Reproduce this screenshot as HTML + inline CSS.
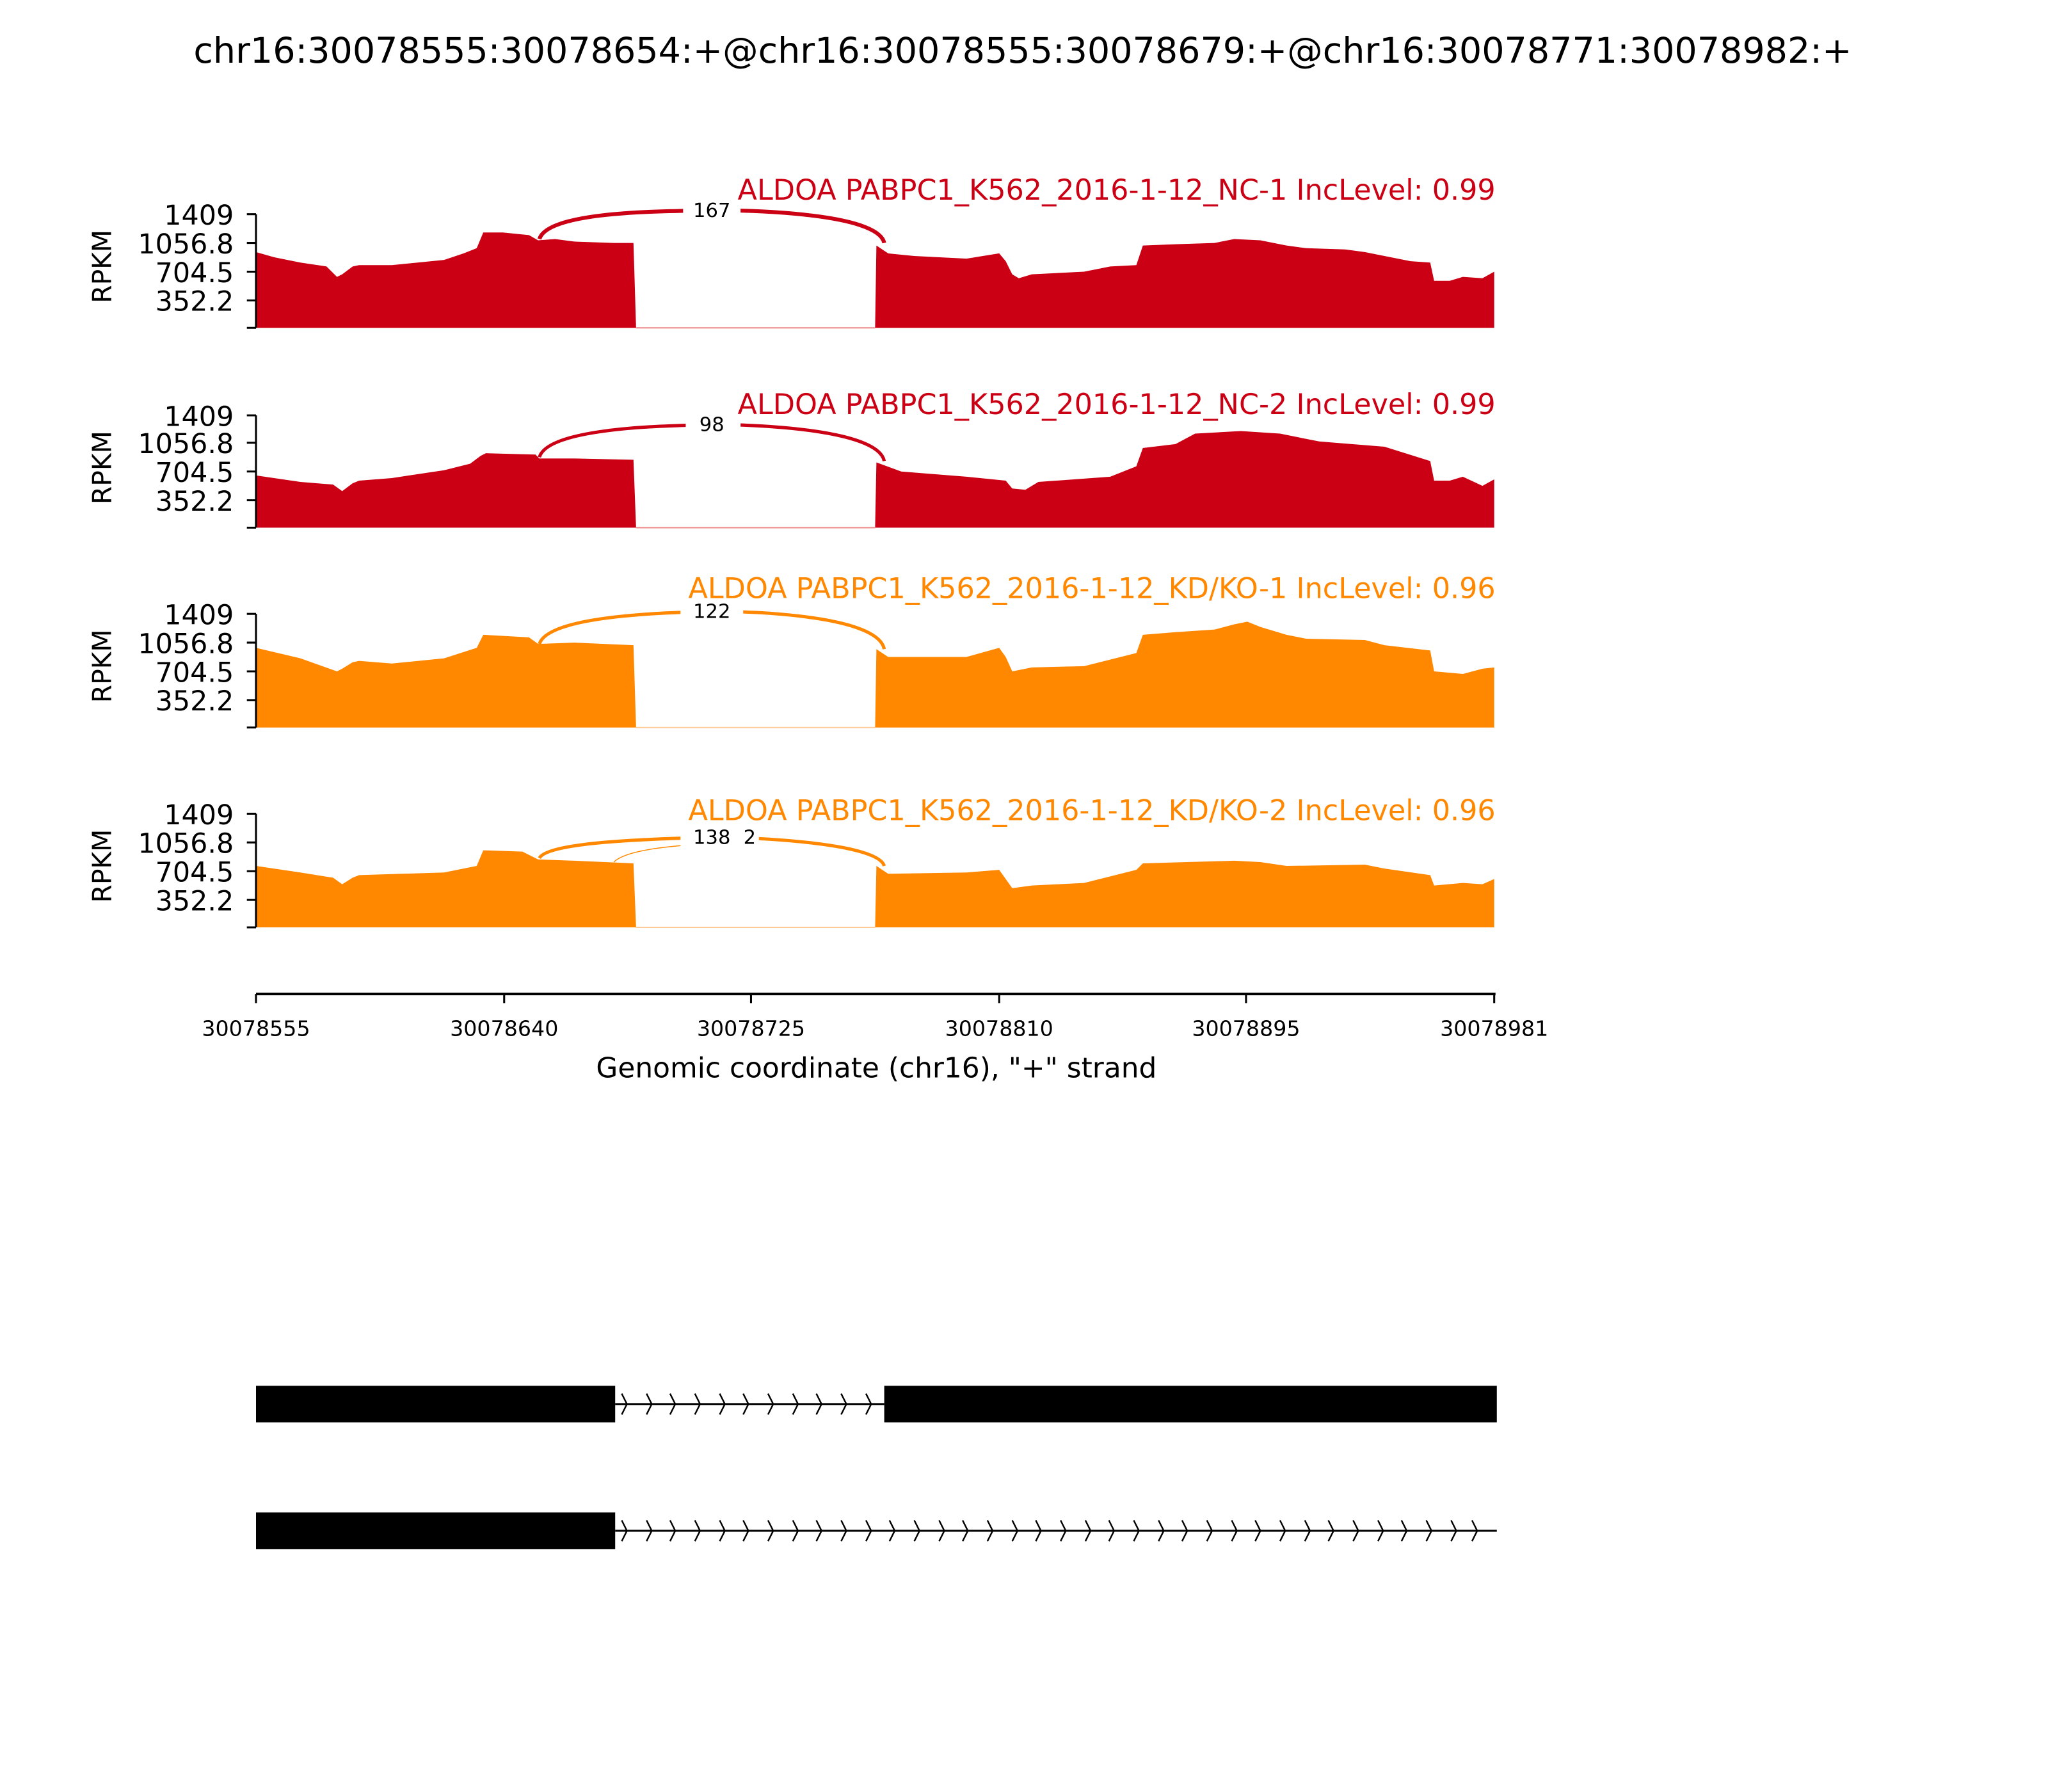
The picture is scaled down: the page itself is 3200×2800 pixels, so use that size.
<!DOCTYPE html>
<html><head><meta charset="utf-8"><style>html,body{margin:0;padding:0;background:#fff}svg{display:block}</style></head>
<body>
<svg width="3200" height="2800" viewBox="0 0 1568 1372" xmlns="http://www.w3.org/2000/svg" font-family="'DejaVu Sans','Liberation Sans',sans-serif">
<rect width="1568" height="1372" fill="#fff"/>
<text x="783" y="48" font-size="27.2" text-anchor="middle">chr16:30078555:30078654:+@chr16:30078555:30078679:+@chr16:30078771:30078982:+</text>

<!-- Panel 1 -->
<g>
<path fill="#cc0014" d="M196,251 L196,193 L210,197 L230,201 L250,204 L258,212 L262,210 L270,204 L275,203 L300,203 L340,199 L355,194 L365,190 L370,178 L385,178 L405,180 L412,184 L425,183 L440,185 L470,186 L485,186 L487,251 Z M670,251 L671,188 L680,194 L700,196 L740,198 L765,194 L770,200 L775,210 L780,213 L790,210 L830,208 L850,204 L870,203 L875,188 L900,187 L930,186 L945,183 L965,184 L985,188 L1000,190 L1030,191 L1045,193 L1060,196 L1080,200 L1095,201 L1098,215 L1110,215 L1120,212 L1135,213 L1144,208 L1144,251 Z"/>
<line x1="487" y1="251" x2="670" y2="251" stroke="#e88" stroke-width="1"/>
<path d="M413,183 C420,160 520,162 545,161 C575,161 672,163 677,186" fill="none" stroke="#cc0014" stroke-width="3"/>
<rect x="523" y="151" width="44" height="19" fill="#fff"/>
<text x="545" y="166" font-size="15" text-anchor="middle">167</text>
<text x="1145" y="153" font-size="21.8" text-anchor="end" fill="#cc0014">ALDOA PABPC1_K562_2016-1-12_NC-1 IncLevel: 0.99</text>
</g>

<!-- Panel 2 -->
<g>
<path fill="#cc0014" d="M196,404 L196,364 L230,369 L255,371 L262,376 L270,370 L275,368 L300,366 L340,360 L360,355 L368,349 L372,347 L410,348 L413,351 L440,351 L485,352 L487,404 Z M670,404 L671,354 L690,361 L740,365 L770,368 L775,374 L785,375 L795,369 L850,365 L870,357 L875,343 L900,340 L915,332 L950,330 L980,332 L1010,338 L1060,342 L1095,353 L1098,368 L1110,368 L1120,365 L1135,372 L1144,367 L1144,404 Z"/>
<line x1="487" y1="404" x2="670" y2="404" stroke="#e88" stroke-width="1"/>
<path d="M413,350 C420,326 520,326 545,325 C575,325 672,328 677,353" fill="none" stroke="#cc0014" stroke-width="2.5"/>
<rect x="525" y="315" width="42" height="19" fill="#fff"/>
<text x="545" y="330" font-size="15" text-anchor="middle">98</text>
<text x="1145" y="317" font-size="21.8" text-anchor="end" fill="#cc0014">ALDOA PABPC1_K562_2016-1-12_NC-2 IncLevel: 0.99</text>
</g>

<!-- Panel 3 -->
<g>
<path fill="#ff8800" d="M196,557 L196,496 L230,504 L258,514 L262,512 L270,507 L275,506 L300,508 L340,504 L365,496 L370,486 L405,488 L412,493 L440,492 L485,494 L487,557 Z M670,557 L671,497 L680,503 L700,503 L740,503 L765,496 L770,503 L775,514 L790,511 L830,510 L870,500 L875,486 L900,484 L930,482 L945,478 L955,476 L965,480 L985,486 L1000,489 L1045,490 L1060,494 L1095,498 L1098,514 L1120,516 L1135,512 L1144,511 L1144,557 Z"/>
<line x1="487" y1="557" x2="670" y2="557" stroke="#fc9" stroke-width="1"/>
<path d="M413,493 C420,470 520,469 545,468 C575,468 672,471 677,497" fill="none" stroke="#ff8800" stroke-width="2.5"/>
<rect x="521" y="458" width="48" height="19" fill="#fff"/>
<text x="545" y="473" font-size="15" text-anchor="middle">122</text>
<text x="1145" y="458" font-size="21.8" text-anchor="end" fill="#ff8800">ALDOA PABPC1_K562_2016-1-12_KD/KO-1 IncLevel: 0.96</text>
</g>

<!-- Panel 4 -->
<g>
<path fill="#ff8800" d="M196,710 L196,663 L230,668 L255,672 L262,677 L270,672 L275,670 L340,668 L365,663 L370,651 L400,652 L412,658 L440,659 L485,661 L487,710 Z M670,710 L671,663 L680,669 L740,668 L765,666 L775,680 L790,678 L830,676 L870,666 L875,661 L945,659 L965,660 L985,663 L1045,662 L1060,665 L1095,670 L1098,678 L1120,676 L1135,677 L1144,673 L1144,710 Z"/>
<line x1="487" y1="710" x2="670" y2="710" stroke="#fc9" stroke-width="1"/>
<path d="M413,657 C420,643 520,642 545,641 C575,641 672,645 677,663" fill="none" stroke="#ff8800" stroke-width="2.5"/>
<path d="M470,660 C480,650 520,647 545,646" fill="none" stroke="#ff8800" stroke-width="0.7"/>
<rect x="521" y="631" width="60" height="19" fill="#fff"/>
<text x="545" y="646" font-size="15" text-anchor="middle">138</text>
<text x="574" y="646" font-size="15" text-anchor="middle">2</text>
<text x="1145" y="628" font-size="21.8" text-anchor="end" fill="#ff8800">ALDOA PABPC1_K562_2016-1-12_KD/KO-2 IncLevel: 0.96</text>
</g>

<!-- Y axes -->
<g stroke="#000" stroke-width="1.5" fill="none">
<path d="M196,164 V251 M189,164 H196 M189,186 H196 M189,208 H196 M189,230 H196 M189,251 H196"/>
<path d="M196,318 V404 M189,318 H196 M189,339 H196 M189,361 H196 M189,383 H196 M189,404 H196"/>
<path d="M196,470 V557 M189,470 H196 M189,492 H196 M189,514 H196 M189,536 H196 M189,557 H196"/>
<path d="M196,623 V710 M189,623 H196 M189,645 H196 M189,667 H196 M189,689 H196 M189,710 H196"/>
</g>
<g font-size="21" text-anchor="end">
<text x="179" y="172">1409</text><text x="179" y="194">1056.8</text><text x="179" y="216">704.5</text><text x="179" y="238">352.2</text>
<text x="179" y="326">1409</text><text x="179" y="347">1056.8</text><text x="179" y="369">704.5</text><text x="179" y="391">352.2</text>
<text x="179" y="478">1409</text><text x="179" y="500">1056.8</text><text x="179" y="522">704.5</text><text x="179" y="544">352.2</text>
<text x="179" y="631">1409</text><text x="179" y="653">1056.8</text><text x="179" y="675">704.5</text><text x="179" y="697">352.2</text>
</g>
<g font-size="20" text-anchor="middle">
<text transform="translate(85,204) rotate(-90)">RPKM</text>
<text transform="translate(85,358) rotate(-90)">RPKM</text>
<text transform="translate(85,510) rotate(-90)">RPKM</text>
<text transform="translate(85,663) rotate(-90)">RPKM</text>
</g>

<!-- X axis -->
<g stroke="#000" stroke-width="1.5">
<line x1="196" y1="761" x2="1145" y2="761" stroke-width="2"/>
<line x1="196" y1="761" x2="196" y2="768"/><line x1="386" y1="761" x2="386" y2="768"/>
<line x1="575" y1="761" x2="575" y2="768"/><line x1="765" y1="761" x2="765" y2="768"/>
<line x1="954" y1="761" x2="954" y2="768"/><line x1="1144" y1="761" x2="1144" y2="768"/>
</g>
<g font-size="16.3" text-anchor="middle">
<text x="196" y="793">30078555</text><text x="386" y="793">30078640</text><text x="575" y="793">30078725</text>
<text x="765" y="793">30078810</text><text x="954" y="793">30078895</text><text x="1144" y="793">30078981</text>
</g>
<text x="671" y="825" font-size="21.5" text-anchor="middle">Genomic coordinate (chr16), "+" strand</text>

<!-- Gene models -->
<rect x="196" y="1061" width="275" height="28" fill="#000"/>
<rect x="677" y="1061" width="469" height="28" fill="#000"/>
<line x1="471" y1="1075" x2="677" y2="1075" stroke="#000" stroke-width="1.5"/>
<rect x="196" y="1158" width="275" height="28" fill="#000"/>
<line x1="471" y1="1172" x2="1146" y2="1172" stroke="#000" stroke-width="1.5"/>
<g stroke="#000" stroke-width="1.2" fill="none">
<path d="M476,1067 L480,1075 L476,1083 M495,1067 L499,1075 L495,1083 M513,1067 L517,1075 L513,1083 M532,1067 L536,1075 L532,1083 M551,1067 L555,1075 L551,1083 M569,1067 L573,1075 L569,1083 M588,1067 L592,1075 L588,1083 M607,1067 L611,1075 L607,1083 M625,1067 L629,1075 L625,1083 M644,1067 L648,1075 L644,1083 M663,1067 L667,1075 L663,1083"/>
<path d="M476,1164 L480,1172 L476,1180 M495,1164 L499,1172 L495,1180 M513,1164 L517,1172 L513,1180 M532,1164 L536,1172 L532,1180 M551,1164 L555,1172 L551,1180 M569,1164 L573,1172 L569,1180 M588,1164 L592,1172 L588,1180 M607,1164 L611,1172 L607,1180 M625,1164 L629,1172 L625,1180 M644,1164 L648,1172 L644,1180 M663,1164 L667,1172 L663,1180 M681,1164 L685,1172 L681,1180 M700,1164 L704,1172 L700,1180 M719,1164 L723,1172 L719,1180 M737,1164 L741,1172 L737,1180 M756,1164 L760,1172 L756,1180 M775,1164 L779,1172 L775,1180 M793,1164 L797,1172 L793,1180 M812,1164 L816,1172 L812,1180 M831,1164 L835,1172 L831,1180 M849,1164 L853,1172 L849,1180 M868,1164 L872,1172 L868,1180 M887,1164 L891,1172 L887,1180 M905,1164 L909,1172 L905,1180 M924,1164 L928,1172 L924,1180 M943,1164 L947,1172 L943,1180 M961,1164 L965,1172 L961,1180 M980,1164 L984,1172 L980,1180 M999,1164 L1003,1172 L999,1180 M1017,1164 L1021,1172 L1017,1180 M1036,1164 L1040,1172 L1036,1180 M1055,1164 L1059,1172 L1055,1180 M1073,1164 L1077,1172 L1073,1180 M1092,1164 L1096,1172 L1092,1180 M1111,1164 L1115,1172 L1111,1180 M1127,1164 L1131,1172 L1127,1180"/>
</g>
</svg>
</body></html>
